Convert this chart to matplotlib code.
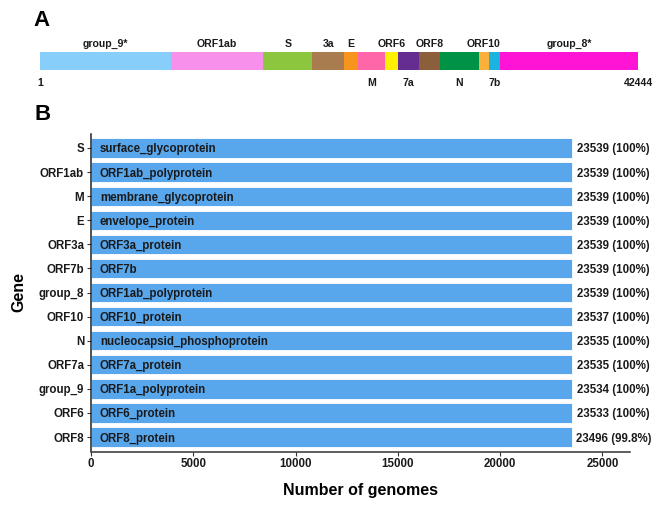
import matplotlib
matplotlib.use("Agg")
import matplotlib.pyplot as plt

plt.rcParams['font.family'] = ['Liberation Sans', 'DejaVu Sans']
plt.rcParams['font.weight'] = 'bold'

# ---------- Panel A data ----------
genome_len = 42444
seg_names = ['group_9*', 'ORF1ab', 'S', '3a', 'E', 'M', 'ORF6', '7a', 'ORF8', 'N', 'ORF10', '7b', 'group_8*']
seg_starts = [1, 9297, 15848, 19325, 21575, 22590, 24485, 25386, 26898, 28388, 31134, 31866, 32646]
seg_ends = [9297, 15848, 19325, 21575, 22590, 24485, 25386, 26898, 28388, 31134, 31866, 32646, 42444]
seg_colors = ['#87CEFA', '#F690EA', '#8CC63F', '#A97C50', '#F7941D', '#FF66AA', '#FFF200',
              '#662D91', '#8B5E3C', '#009245', '#FBB03B', '#1BB4E0', '#FF14D6']
seg_label_pos = ['above', 'above', 'above', 'above', 'above', 'below', 'above', 'below',
                 'above', 'below', 'above', 'below', 'above']

# ---------- Panel B data ----------
genes = ['S', 'ORF1ab', 'M', 'E', 'ORF3a', 'ORF7b', 'group_8', 'ORF10', 'N', 'ORF7a', 'group_9', 'ORF6', 'ORF8']
products = ['surface_glycoprotein', 'ORF1ab_polyprotein', 'membrane_glycoprotein', 'envelope_protein',
            'ORF3a_protein', 'ORF7b', 'ORF1ab_polyprotein', 'ORF10_protein', 'nucleocapsid_phosphoprotein',
            'ORF7a_protein', 'ORF1a_polyprotein', 'ORF6_protein', 'ORF8_protein']
counts = [23539, 23539, 23539, 23539, 23539, 23539, 23539, 23537, 23535, 23535, 23534, 23533, 23496]
pcts = ['100%', '100%', '100%', '100%', '100%', '100%', '100%', '100%', '100%', '100%', '100%', '100%', '99.8%']
xticks = [0, 5000, 10000, 15000, 20000, 25000]

W, H = 666, 509
fig = plt.figure(figsize=(W / 100, H / 100), dpi=100)

def rect(l, t, r, b):
    return [l / W, 1 - b / H, (r - l) / W, (b - t) / H]

TXT = '#1a1a1a'

# ---------- Panel A ----------
axA = fig.add_axes(rect(40, 30, 638, 90))
axA.set_xlim(1, genome_len)
axA.set_ylim(90, 30)
axA.axis('off')
for name, s, e, c, pos in zip(seg_names, seg_starts, seg_ends, seg_colors, seg_label_pos):
    axA.barh(61, e - s, left=s, height=18, color=c, edgecolor='none')
    mid = (s + e) / 2
    yy = 43 if pos == 'above' else 82
    axA.text(mid, yy, name, ha='center', va='center_baseline', fontsize=7.6, fontweight='bold', color=TXT)
axA.text(1, 82, '1', ha='center', va='center_baseline', fontsize=7.6, fontweight='bold', color=TXT,
         clip_on=False)
axA.text(genome_len, 82, str(genome_len), ha='center', va='center_baseline', fontsize=7.6,
         fontweight='bold', color=TXT, clip_on=False)

fig.text(33 / W, 1 - 20 / H, 'A', fontsize=16, fontweight='bold', ha='left', va='center')
fig.text(34 / W, 1 - 115 / H, 'B', fontsize=16, fontweight='bold', ha='left', va='center')

# ---------- Panel B ----------
axB = fig.add_axes(rect(91, 133.5, 630, 451.5))
ypos = list(range(len(genes)))
axB.barh(ypos, counts, height=0.8, color='#58A6EC', edgecolor='white', linewidth=0.6)
axB.set_ylim(len(genes) - 0.4, -0.6)
axB.set_xlim(0, 26350)
axB.set_yticks(ypos)
axB.set_yticklabels(genes, fontsize=8.3, fontweight='bold')
axB.set_xticks(xticks)
axB.set_xticklabels([str(t) for t in xticks], fontsize=8.3, fontweight='bold')
for y, p, c, pc in zip(ypos, products, counts, pcts):
    axB.text(430, y, p, ha='left', va='center_baseline', fontsize=8.3, fontweight='bold', color=TXT)
    axB.text(c + 230, y, f'{c} ({pc})', ha='left', va='center_baseline', fontsize=8.3,
             fontweight='bold', color=TXT, clip_on=False)
for sp in ['top', 'right']:
    axB.spines[sp].set_visible(False)
axB.spines['left'].set_color('#222222')
axB.spines['bottom'].set_color('#333333')
axB.spines['left'].set_linewidth(1.1)
axB.spines['bottom'].set_linewidth(1.1)
axB.tick_params(axis='both', length=3, width=0.8, colors='#333333', labelcolor=TXT, pad=2)
axB.set_xlabel('Number of genomes', fontsize=11.5, fontweight='bold', labelpad=9)
axB.set_ylabel('Gene', fontsize=11.5, fontweight='bold', labelpad=9)

fig.savefig('out.png', dpi=100, facecolor='white')
